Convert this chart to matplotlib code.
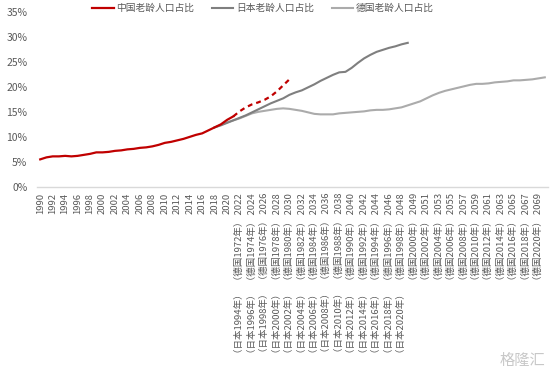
import matplotlib
matplotlib.use("Agg")
import matplotlib.pyplot as plt
import numpy as np

plt.rcParams['font.family'] = ['Noto Sans CJK SC', 'DejaVu Sans']

# 老龄人口占比 (%), 横轴按类别序号排列 (1990 起每格一年)
china = [5.6, 6.0, 6.2, 6.2, 6.3, 6.2, 6.3, 6.5, 6.7, 7.0,
         7.0, 7.1, 7.3, 7.4, 7.6, 7.7, 7.9, 8.0, 8.2, 8.5,
         8.9, 9.1, 9.4, 9.7, 10.1, 10.5, 10.8, 11.4, 12.0, 12.6,
         13.5, 14.2, 15.2, 16.0, 16.6, 17.0, 17.5, 18.2, 19.2, 20.4,
         21.6]
china_forecast_from = 31   # 之后为预测(虚线)

japan_start = 28
japan = [12.0, 12.4, 12.9, 13.4, 13.9, 14.4, 15.0, 15.6, 16.2, 16.8,
         17.3, 17.8, 18.5, 19.0, 19.4, 20.0, 20.6, 21.3, 21.9, 22.5,
         23.0, 23.1, 23.9, 24.9, 25.8, 26.5, 27.1, 27.5, 27.9, 28.2,
         28.6, 28.9]

germany_start = 28
germany = [12.0, 12.5, 13.0, 13.4, 13.8, 14.3, 14.8, 15.1, 15.3, 15.5,
           15.7, 15.8, 15.7, 15.5, 15.3, 15.0, 14.7, 14.6, 14.6, 14.6,
           14.8, 14.9, 15.0, 15.1, 15.2, 15.4, 15.5, 15.5, 15.6, 15.8,
           16.0, 16.4, 16.8, 17.2, 17.8, 18.4, 18.9, 19.3, 19.6, 19.9,
           20.2, 20.5, 20.7, 20.7, 20.8, 21.0, 21.1, 21.2, 21.4, 21.4,
           21.5, 21.6, 21.8, 22.0]

n_categories = 82

year_ticks = ["1990", "1992", "1994", "1996", "1998", "2000", "2002", "2004",
              "2006", "2008", "2010", "2012", "2014", "2016", "2018", "2020",
              "2022", "2024", "2026", "2028", "2030", "2032", "2034", "2036",
              "2038", "2040", "2042", "2044", "2046", "2048", "2049", "2051",
              "2053", "2055", "2057", "2059", "2061", "2063", "2065", "2067",
              "2069"]
japan_ticks = ["1994", "1996", "1998", "2000", "2002", "2004", "2006", "2008",
               "2010", "2012", "2014", "2016", "2018", "2020"]
germany_ticks = ["1972", "1974", "1976", "1978", "1980", "1982", "1984", "1986",
                 "1988", "1990", "1992", "1994", "1996", "1998", "2000", "2002",
                 "2004", "2006", "2008", "2010", "2012", "2014", "2016", "2018",
                 "2020"]

labels = []
first_tag = len(year_ticks) - len(germany_ticks)
for k, y in enumerate(year_ticks):
    s = y
    if k >= first_tag:
        s = "（德国" + germany_ticks[k - first_tag] + "年） " + s
        j = k - first_tag
        if j < len(japan_ticks):
            s = "（日本" + japan_ticks[j] + "年）  " + s
    labels.append(s)

RED = "#C00000"
DARK = "#7F7F7F"
LIGHT = "#ABABAB"
TXT = "#595959"

fig = plt.figure(figsize=(5.54, 3.74), dpi=100)
ax = fig.add_axes([0.067, 0.499, 0.922, 0.468])

x_cn = np.arange(len(china))
x_jp = np.arange(japan_start, japan_start + len(japan))
x_de = np.arange(germany_start, germany_start + len(germany))

ax.plot(x_de, germany, color=LIGHT, lw=1.5, label="德国老龄人口占比", zorder=2)
ax.plot(x_jp, japan, color=DARK, lw=1.5, label="日本老龄人口占比", zorder=3)
ax.plot(x_cn[:china_forecast_from + 1], china[:china_forecast_from + 1],
        color=RED, lw=1.6, label="中国老龄人口占比", zorder=4)
ax.plot(x_cn[china_forecast_from:], china[china_forecast_from:],
        color=RED, lw=1.6, ls=(0, (2.2, 1.8)), zorder=4)

ax.set_xlim(-0.5, n_categories - 0.5)
ax.set_ylim(0, 35)
ax.set_yticks(np.arange(0, 36, 5))
ax.set_yticklabels([f"{v}%" for v in range(0, 36, 5)])
ax.set_xticks(np.arange(0, 2 * len(labels), 2))
ax.set_xticklabels(labels, rotation=90)

ax.tick_params(axis="x", length=0, pad=4, labelsize=6.8, colors=TXT)
ax.tick_params(axis="y", length=0, pad=7, labelsize=7.5, colors=TXT)
for s in ("top", "right", "left"):
    ax.spines[s].set_visible(False)
ax.spines["bottom"].set_color("#D9D9D9")
ax.spines["bottom"].set_linewidth(1.0)

h, l = ax.get_legend_handles_labels()
order = [2, 1, 0]
fig.legend([h[i] for i in order], [l[i] for i in order], loc="center",
           bbox_to_anchor=(0.475, 0.978), ncol=3, frameon=False,
           fontsize=7, handlelength=2.2, handletextpad=0.3, columnspacing=1.8,
           labelcolor=TXT)

fig.text(0.985, 0.035, "格隆汇", ha="right", va="center", fontsize=11,
         color="#C8C8C8")

fig.savefig("out.png", dpi=100)
